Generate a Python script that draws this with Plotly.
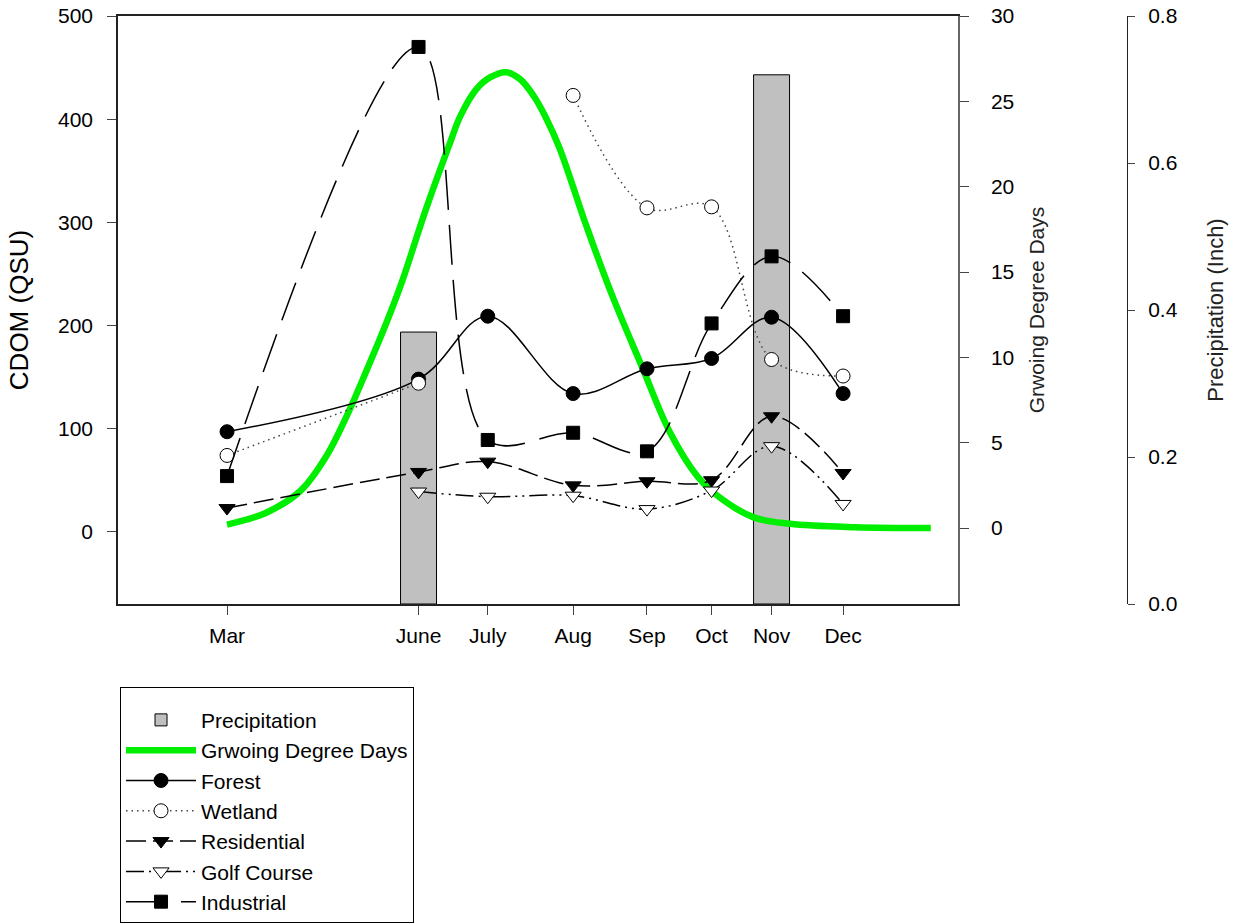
import plotly.graph_objects as go

# ---- data (x = sampling day of year) ----
month_labels = ["Mar", "June", "July", "Aug", "Sep", "Oct", "Nov", "Dec"]
sample_days = [75, 158, 188, 225, 257, 285, 311, 342]

forest = [97, 148, 209, 134, 158, 168, 208, 134]
wetland = [74, 144, None, 423, 314, 315, 167, 151]
residential = [23, 58, 68, 45, 49, 50, 112, 57]
golf_course = [None, 39, 34, 35, 22, 40, 83, 27]
industrial = [54, 470, 89, 96, 78, 202, 267, 209]

precip_days = [158, 311]
precip_inch = [0.37, 0.72]

gdd_days = [75, 92, 107, 118, 127, 136, 144, 151, 161, 172, 176, 183, 189, 196,
            202, 208, 213, 219, 231, 242, 255, 267, 279, 286, 303, 319, 347, 380]
gdd_vals = [0.2, 0.9, 2.2, 4.2, 6.6, 9.4, 12.0, 14.5, 18.6, 22.7, 24.1, 25.7, 26.4, 26.7,
            26.3, 25.3, 24.1, 22.3, 17.6, 13.6, 9.4, 5.6, 3.0, 2.05, 0.64, 0.25, 0.05, 0.0]

FONT = "Liberation Sans, Arial, sans-serif"

fig = go.Figure()

fig.add_trace(go.Bar(
    x=precip_days, y=precip_inch, width=15.6, name="Precipitation",
    marker=dict(color="#C0C0C0", line=dict(color="black", width=1)),
    xaxis="x", yaxis="y", legendgroup="p"))

fig.add_trace(go.Scatter(
    x=gdd_days, y=gdd_vals, mode="lines", name="Grwoing Degree Days",
    line=dict(color="#00EE00", width=6.5, shape="spline"),
    xaxis="x", yaxis="y2", legendgroup="g"))

series = [
    ("Forest", forest, "circle", "black", "solid", "black"),
    ("Wetland", wetland, "circle", "white", "1.5px,4px", "#444"),
    ("Residential", residential, "triangle-down", "black", "20px,7px", "black"),
    ("Golf Course", golf_course, "triangle-down", "white", "18px,5px,2px,5px,2px,5px", "black"),
    ("Industrial", industrial, "square", "black", "40px,15px", "black"),
]
for name, vals, sym, fill, dash, lc in series:
    fig.add_trace(go.Scatter(
        x=sample_days, y=vals, mode="lines+markers", name=name,
        line=dict(color=lc, width=1.5, dash=dash, shape="spline"),
        marker=dict(symbol=sym, color=fill, size=14 if sym != "square" else 13,
                    line=dict(color="black", width=1)),
        connectgaps=False, xaxis="x", yaxis="y3", legendgroup=name))

tickfont = dict(family=FONT, size=21, color="black")

fig.update_layout(
    width=1238, height=924,
    margin=dict(l=118, r=111, t=16, b=320, autoexpand=False),
    paper_bgcolor="white", plot_bgcolor="white",
    font=dict(family=FONT, size=21, color="black"),
    showlegend=True,
    xaxis=dict(
        domain=[0, 840 / 1009], range=[27.75, 391.8],
        tickmode="array", tickvals=sample_days, ticktext=month_labels,
        ticks="outside", ticklen=9, tickcolor="#444", tickfont=tickfont,
        ticklabelstandoff=3,
        showline=True, linecolor="#222", linewidth=1.5, mirror=True,
        showgrid=False, zeroline=False),
    yaxis=dict(  # precipitation (base, drawn first)
        range=[0, 0.8], tickvals=[0, 0.2, 0.4, 0.6, 0.8],
        ticktext=["0.0", "0.2", "0.4", "0.6", "0.8"],
        side="right", anchor="free", position=1.0,
        ticks="outside", ticklen=7, tickcolor="#444", tickfont=tickfont,
        ticklabelstandoff=9,
        showline=True, linecolor="#222", linewidth=1,
        showgrid=False, zeroline=False,
        title=dict(text="Precipitation (Inch)", font=dict(family=FONT, size=22, color="#222"),
                   standoff=30)),
    yaxis2=dict(  # growing degree days
        range=[-4.45, 30], tickvals=[0, 5, 10, 15, 20, 25, 30],
        overlaying="y", side="right", anchor="x",
        ticks="outside", ticklen=9, tickcolor="#444", tickfont=tickfont,
        ticklabelstandoff=18,
        showline=True, linecolor="#666", linewidth=1.5,
        showgrid=False, zeroline=False,
        title=dict(text="Grwoing Degree Days", font=dict(family=FONT, size=21, color="#222"),
                   standoff=16)),
    yaxis3=dict(  # CDOM
        range=[-70, 500], tickvals=[0, 100, 200, 300, 400, 500],
        overlaying="y", side="left", anchor="x",
        ticks="outside", ticklen=9, tickcolor="#444", tickfont=tickfont,
        ticklabelstandoff=10,
        showline=True, linecolor="#222", linewidth=1.5,
        showgrid=False, zeroline=False,
        title=dict(text="CDOM (QSU)", font=dict(family=FONT, size=26, color="black"),
                   standoff=22)),
    legend=dict(
        x=0.002, y=-0.1412, xanchor="left", yanchor="top",
        bgcolor="white", bordercolor="black", borderwidth=1,
        font=dict(family=FONT, size=21, color="black"),
        title=dict(text=" ", font=dict(size=9)),
        itemwidth=70, tracegroupgap=0, traceorder="normal"),
)

fig.write_html("out.html")
